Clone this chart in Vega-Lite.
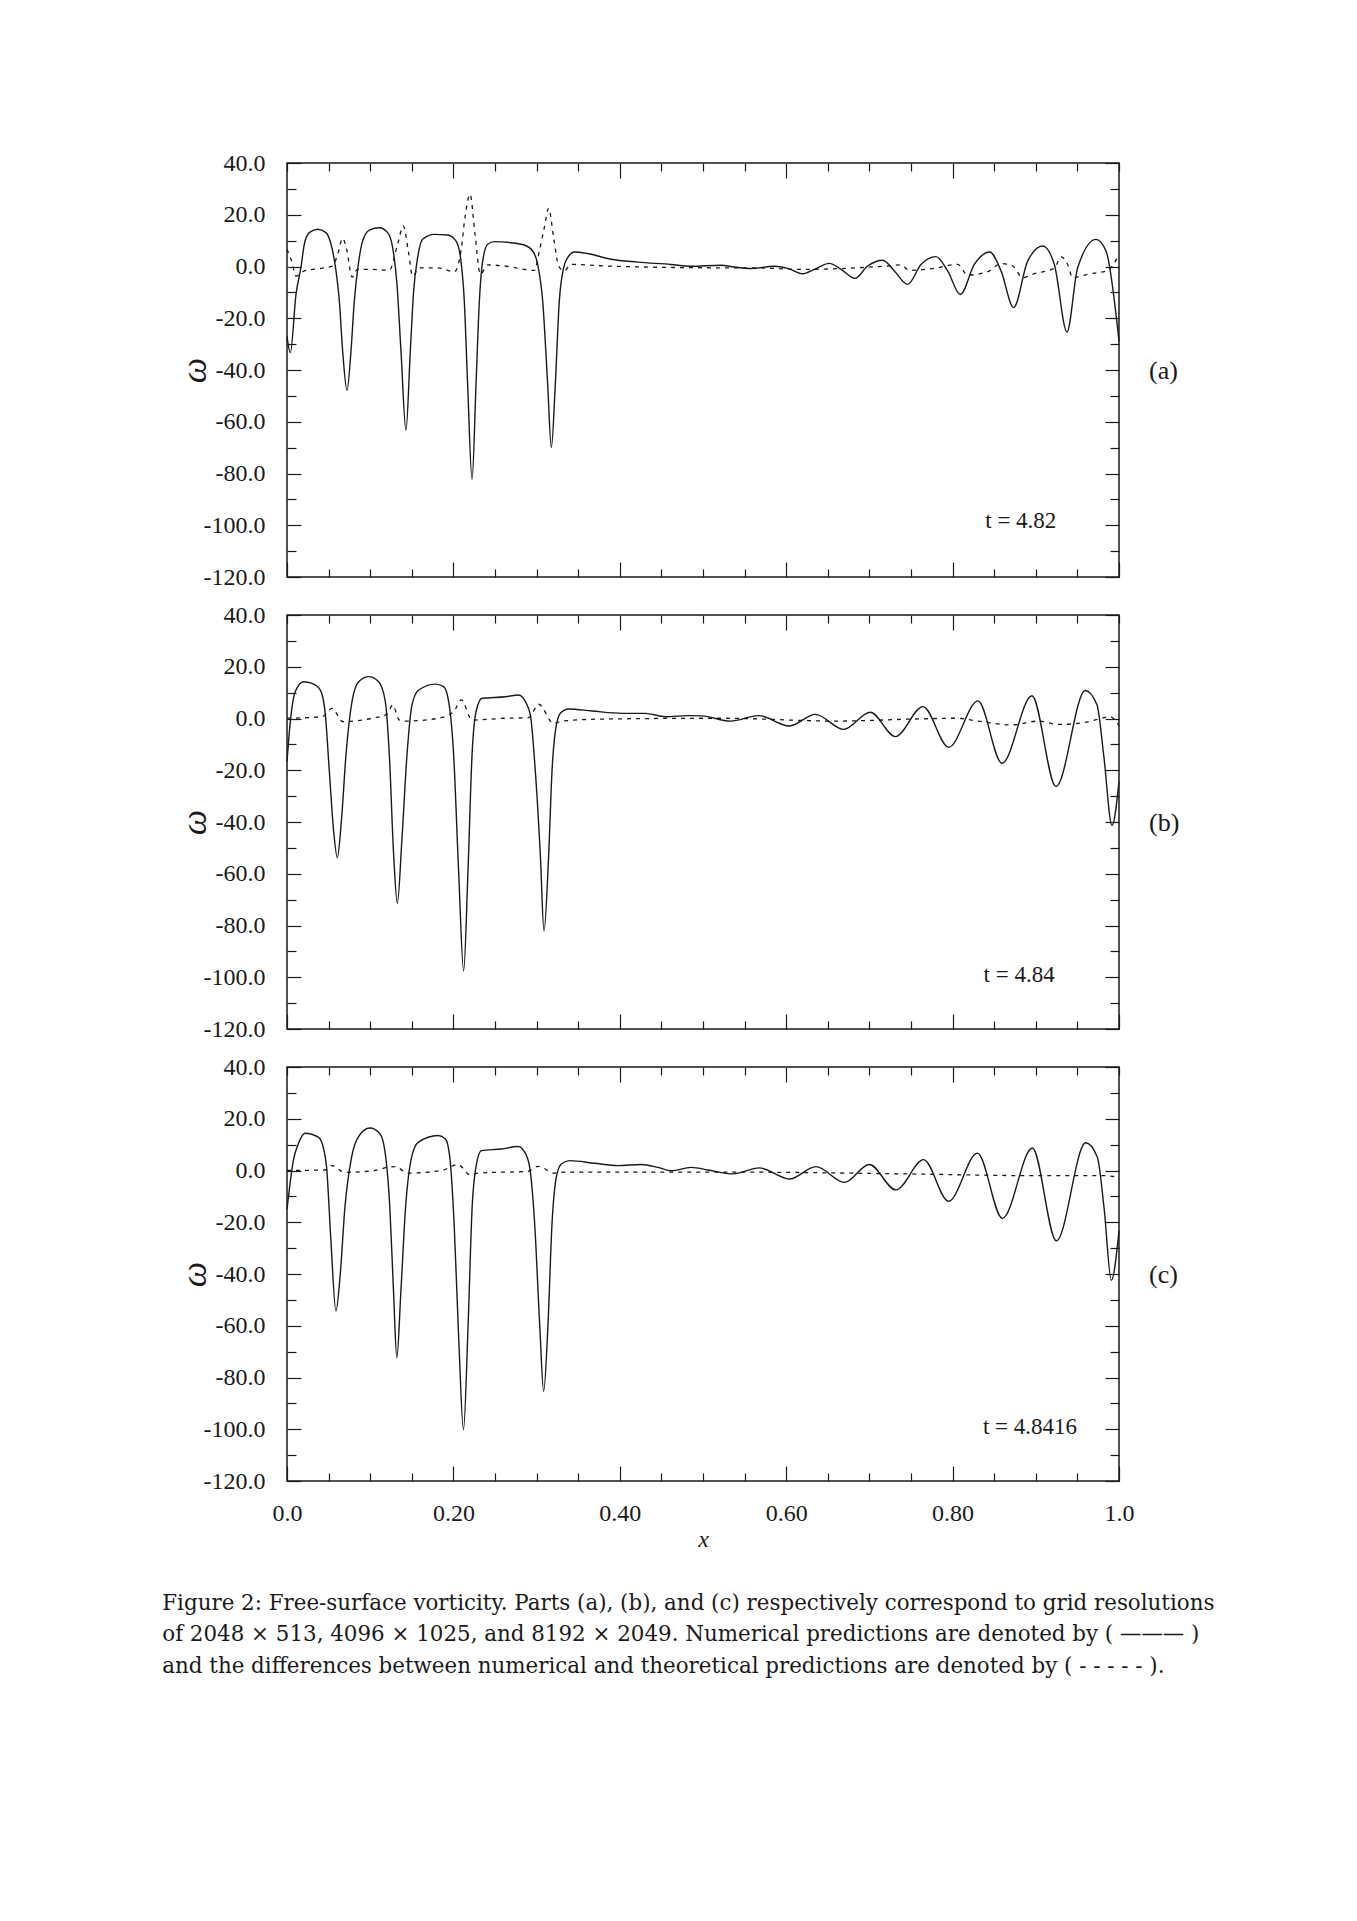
{
  "$schema": "https://vega.github.io/schema/vega-lite/v6.json",
  "background": "white",
  "padding": {"left": 162, "top": 150, "right": 5, "bottom": 5},
  "bounds": "flush",
  "spacing": 38,
  "title": {
    "text": [
      "Figure 2: Free-surface vorticity. Parts (a), (b), and (c) respectively correspond to grid resolutions",
      "of 2048 × 513, 4096 × 1025, and 8192 × 2049. Numerical predictions are denoted by ( ——— )",
      "and the differences between numerical and theoretical predictions are denoted by ( - - - - - )."
    ],
    "orient": "bottom", "anchor": "start", "frame": "bounds", "font": "DejaVu Serif", "fontSize": 21.4,
    "fontWeight": "normal", "lineHeight": 31.5, "offset": 41, "color": "#1a1a1a", "dx": -13
  },
  "config": {
    "view": {"stroke": "#1a1a1a", "strokeWidth": 1.5},
    "axis": {
      "domain": false, "grid": false, "labelFont": "Liberation Serif", "labelFontSize": 24,
      "labelColor": "#1a1a1a", "tickColor": "#1a1a1a", "tickWidth": 1.2,
      "titleFont": "Liberation Serif", "titleFontWeight": "normal", "titleColor": "#1a1a1a",
      "labelFlush": false, "labelOverlap": false
    }
  },
  "datasets": {
    "a_num": [
      {"x":0,"w":-27},{"x":0.004,"w":-33.3},{"x":0.0108,"w":-10.8},{"x":0.0168,"w":-0.2},{"x":0.0208,"w":8.6},{"x":0.0268,"w":13.1},{"x":0.0369,"w":14.4},{"x":0.0469,"w":13.1},{"x":0.0529,"w":8.6},{"x":0.0589,"w":-1.7},{"x":0.0629,"w":-13.3},{"x":0.0669,"w":-32.7},{"x":0.0721,"w":-47.9},{"x":0.0769,"w":-32.7},{"x":0.0809,"w":-13.3},{"x":0.0857,"w":0.8},{"x":0.0909,"w":9.9},{"x":0.099,"w":14.1},{"x":0.111,"w":15.0},{"x":0.121,"w":13.1},{"x":0.127,"w":7.3},{"x":0.1322,"w":-6.9},{"x":0.137,"w":-32.7},{"x":0.143,"w":-63.3},{"x":0.1482,"w":-32.7},{"x":0.1522,"w":-9.5},{"x":0.157,"w":3.4},{"x":0.163,"w":10.5},{"x":0.1771,"w":12.4},{"x":0.1931,"w":12.2},{"x":0.2031,"w":9.9},{"x":0.2091,"w":2.1},{"x":0.2131,"w":-13.3},{"x":0.2171,"w":-45.5},{"x":0.2224,"w":-82.3},{"x":0.2272,"w":-45.5},{"x":0.2312,"w":-13.3},{"x":0.2352,"w":2.1},{"x":0.2412,"w":8.6},{"x":0.2492,"w":9.6},{"x":0.2692,"w":9.2},{"x":0.2853,"w":8.3},{"x":0.2953,"w":6.0},{"x":0.3013,"w":0.8},{"x":0.3073,"w":-13.3},{"x":0.3133,"w":-45.5},{"x":0.3177,"w":-70.0},{"x":0.3225,"w":-45.5},{"x":0.3273,"w":-13.3},{"x":0.3325,"w":-0.5},{"x":0.3373,"w":3.4},{"x":0.3454,"w":5.6},{"x":0.3614,"w":5.0},{"x":0.3894,"w":2.8},{"x":0.4215,"w":1.7},{"x":0.4615,"w":0.8},{"x":0.4856,"w":0.1},{"x":0.5216,"w":0.5},{"x":0.5377,"w":-0.2},{"x":0.5577,"w":-0.8},{"x":0.5857,"w":0.1},{"x":0.6018,"w":-0.7},{"x":0.6198,"w":-2.8},{"x":0.6338,"w":-1.1},{"x":0.6518,"w":1.2},{"x":0.6659,"w":-1.1},{"x":0.6827,"w":-4.6},{"x":0.6979,"w":0.2},{"x":0.716,"w":2.4},{"x":0.73,"w":-1.7},{"x":0.746,"w":-6.9},{"x":0.762,"w":0.8},{"x":0.78,"w":3.8},{"x":0.794,"w":-1.7},{"x":0.8093,"w":-10.8},{"x":0.8261,"w":0.8},{"x":0.8446,"w":5.6},{"x":0.8582,"w":-1.7},{"x":0.8734,"w":-15.9},{"x":0.8902,"w":2.1},{"x":0.9083,"w":7.9},{"x":0.9223,"w":0.8},{"x":0.9375,"w":-25.3},{"x":0.9503,"w":-0.5},{"x":0.9724,"w":10.5},{"x":0.9844,"w":6.0},{"x":1.0,"w":-28.8}
    ],
    "a_diff": [
      {"x":0,"w":6.6},{"x":0.0056,"w":2.1},{"x":0.0108,"w":-3.7},{"x":0.0208,"w":-1.7},{"x":0.0409,"w":-0.7},{"x":0.0549,"w":0.2},{"x":0.0609,"w":4.7},{"x":0.0669,"w":10.9},{"x":0.0721,"w":6.0},{"x":0.0781,"w":-4.1},{"x":0.0849,"w":-1.1},{"x":0.101,"w":-1.1},{"x":0.123,"w":-1.4},{"x":0.133,"w":8.6},{"x":0.1398,"w":15.7},{"x":0.1458,"w":6.0},{"x":0.151,"w":-3.7},{"x":0.159,"w":-0.5},{"x":0.1811,"w":-0.5},{"x":0.2011,"w":-2.0},{"x":0.2091,"w":6.0},{"x":0.2139,"w":18.9},{"x":0.22,"w":27.9},{"x":0.226,"w":12.4},{"x":0.2324,"w":-3.0},{"x":0.2412,"w":0.6},{"x":0.2612,"w":0.2},{"x":0.2973,"w":-1.5},{"x":0.3033,"w":6.0},{"x":0.3093,"w":15.0},{"x":0.3145,"w":22.5},{"x":0.3205,"w":11.1},{"x":0.3265,"w":0.2},{"x":0.3333,"w":-1.7},{"x":0.3413,"w":0.8},{"x":0.3814,"w":0.2},{"x":0.5216,"w":-0.5},{"x":0.5577,"w":-0.5},{"x":0.6178,"w":-1.1},{"x":0.7219,"w":0.2},{"x":0.738,"w":0.6},{"x":0.748,"w":-1.5},{"x":0.778,"w":-0.7},{"x":0.8061,"w":0.8},{"x":0.8181,"w":-3.3},{"x":0.8421,"w":-2.0},{"x":0.8582,"w":1.1},{"x":0.8722,"w":0.2},{"x":0.8842,"w":-4.3},{"x":0.8982,"w":-2.8},{"x":0.9223,"w":-0.7},{"x":0.9303,"w":3.7},{"x":0.9383,"w":0.8},{"x":0.9443,"w":-4.3},{"x":0.9623,"w":-3.0},{"x":0.9864,"w":-1.5},{"x":1.0,"w":4.7}
    ],
    "b_num": [
      {"x":0,"w":-16.7},{"x":0.004,"w":-1.2},{"x":0.01,"w":10.4},{"x":0.02,"w":14.2},{"x":0.03,"w":13.6},{"x":0.0401,"w":11.0},{"x":0.0461,"w":1.4},{"x":0.0509,"w":-20.5},{"x":0.0561,"w":-43.7},{"x":0.0605,"w":-53.8},{"x":0.0653,"w":-39.9},{"x":0.0709,"w":-14.1},{"x":0.0781,"w":6.5},{"x":0.0861,"w":14.2},{"x":0.0982,"w":16.2},{"x":0.1102,"w":14.2},{"x":0.1182,"w":6.5},{"x":0.123,"w":-14.1},{"x":0.1282,"w":-52.8},{"x":0.1326,"w":-71.4},{"x":0.1382,"w":-46.3},{"x":0.1442,"w":-14.1},{"x":0.1502,"w":5.2},{"x":0.1583,"w":11.0},{"x":0.1783,"w":13.3},{"x":0.1883,"w":12.3},{"x":0.1943,"w":6.5},{"x":0.2003,"w":-14.1},{"x":0.2063,"w":-59.2},{"x":0.2123,"w":-97.6},{"x":0.2175,"w":-59.2},{"x":0.2224,"w":-14.1},{"x":0.2272,"w":2.6},{"x":0.2344,"w":7.8},{"x":0.2624,"w":8.4},{"x":0.2784,"w":9.1},{"x":0.2865,"w":6.5},{"x":0.2925,"w":1.4},{"x":0.2985,"w":-20.5},{"x":0.3045,"w":-52.8},{"x":0.3089,"w":-82.1},{"x":0.3145,"w":-52.8},{"x":0.3185,"w":-20.5},{"x":0.3225,"w":-5.1},{"x":0.3285,"w":2.0},{"x":0.3385,"w":3.7},{"x":0.3666,"w":2.9},{"x":0.4026,"w":2.0},{"x":0.4307,"w":2.0},{"x":0.4547,"w":0.7},{"x":0.4828,"w":1.1},{"x":0.4988,"w":1.0},{"x":0.5329,"w":-1.0},{"x":0.5669,"w":1.1},{"x":0.6038,"w":-2.9},{"x":0.635,"w":1.6},{"x":0.6691,"w":-4.2},{"x":0.7011,"w":2.4},{"x":0.7312,"w":-7.0},{"x":0.7644,"w":4.6},{"x":0.7953,"w":-11.1},{"x":0.8305,"w":6.8},{"x":0.8594,"w":-17.3},{"x":0.8954,"w":8.8},{"x":0.9243,"w":-26.3},{"x":0.9595,"w":10.8},{"x":0.9736,"w":5.2},{"x":0.9816,"w":-14.1},{"x":0.9916,"w":-41.4},{"x":1.0,"w":-24.4}
    ],
    "b_diff": [
      {"x":0,"w":0.1},{"x":0.0421,"w":0.7},{"x":0.0541,"w":3.9},{"x":0.0669,"w":-1.2},{"x":0.1022,"w":0.1},{"x":0.1202,"w":1.6},{"x":0.127,"w":5.2},{"x":0.135,"w":-0.6},{"x":0.1422,"w":-1.0},{"x":0.1823,"w":0.1},{"x":0.2003,"w":2.6},{"x":0.2095,"w":7.2},{"x":0.2224,"w":-0.6},{"x":0.2624,"w":0.1},{"x":0.2905,"w":0.3},{"x":0.3025,"w":5.5},{"x":0.3205,"w":-1.9},{"x":0.3305,"w":-1.0},{"x":0.3826,"w":-0.2},{"x":0.5228,"w":0.1},{"x":0.6591,"w":-1.0},{"x":0.7548,"w":-0.2},{"x":0.8029,"w":0.1},{"x":0.8309,"w":-1.0},{"x":0.871,"w":-2.5},{"x":0.9031,"w":-1.0},{"x":0.9271,"w":-2.3},{"x":0.9591,"w":-1.5},{"x":0.9792,"w":0.1},{"x":0.9892,"w":0.7},{"x":1.0,"w":-2.8}
    ],
    "c_num": [
      {"x":0,"w":-14.9},{"x":0.0036,"w":-5.2},{"x":0.0076,"w":3.8},{"x":0.0136,"w":10.3},{"x":0.0216,"w":14.4},{"x":0.0376,"w":12.9},{"x":0.0436,"w":9.0},{"x":0.0476,"w":1.2},{"x":0.0528,"w":-27.2},{"x":0.0588,"w":-54.3},{"x":0.064,"w":-40.1},{"x":0.0696,"w":-14.3},{"x":0.0776,"w":5.1},{"x":0.0856,"w":12.9},{"x":0.0996,"w":16.4},{"x":0.1116,"w":14.2},{"x":0.1176,"w":7.7},{"x":0.1236,"w":-14.3},{"x":0.128,"w":-46.6},{"x":0.132,"w":-72.4},{"x":0.1369,"w":-46.6},{"x":0.1425,"w":-14.3},{"x":0.1497,"w":5.1},{"x":0.1577,"w":10.9},{"x":0.1817,"w":13.5},{"x":0.1905,"w":12.2},{"x":0.1957,"w":5.1},{"x":0.2009,"w":-20.7},{"x":0.2065,"w":-65.9},{"x":0.2121,"w":-100.2},{"x":0.2177,"w":-59.5},{"x":0.2225,"w":-14.3},{"x":0.2277,"w":2.5},{"x":0.2337,"w":7.7},{"x":0.2577,"w":8.3},{"x":0.2777,"w":9.3},{"x":0.2857,"w":7.1},{"x":0.2917,"w":1.2},{"x":0.2977,"w":-20.7},{"x":0.3037,"w":-59.5},{"x":0.3085,"w":-85.3},{"x":0.3137,"w":-59.5},{"x":0.3185,"w":-20.7},{"x":0.3237,"w":-2.6},{"x":0.3297,"w":2.5},{"x":0.3397,"w":3.8},{"x":0.3697,"w":2.8},{"x":0.3978,"w":1.9},{"x":0.4258,"w":2.3},{"x":0.4458,"w":1.2},{"x":0.4618,"w":-0.1},{"x":0.4858,"w":1.2},{"x":0.5058,"w":0.2},{"x":0.5358,"w":-1.3},{"x":0.5678,"w":1.0},{"x":0.6038,"w":-3.3},{"x":0.6358,"w":1.5},{"x":0.6699,"w":-4.6},{"x":0.6999,"w":2.3},{"x":0.7319,"w":-7.5},{"x":0.7651,"w":4.2},{"x":0.7951,"w":-11.9},{"x":0.8299,"w":6.7},{"x":0.8599,"w":-18.5},{"x":0.8959,"w":8.7},{"x":0.9247,"w":-27.2},{"x":0.96,"w":10.7},{"x":0.974,"w":5.1},{"x":0.982,"w":-14.3},{"x":0.9908,"w":-42.4},{"x":1.0,"w":-23.3}
    ],
    "c_diff": [
      {"x":0,"w":0},{"x":0.0456,"w":0.2},{"x":0.0536,"w":1.9},{"x":0.0696,"w":-0.7},{"x":0.1056,"w":0},{"x":0.1216,"w":1.3},{"x":0.1297,"w":1.5},{"x":0.1457,"w":-1.0},{"x":0.1857,"w":0},{"x":0.2057,"w":2.3},{"x":0.2197,"w":-1.6},{"x":0.2297,"w":-1.0},{"x":0.2897,"w":-0.3},{"x":0.3017,"w":1.6},{"x":0.3217,"w":-1.0},{"x":0.3337,"w":-0.6},{"x":0.5258,"w":-0.6},{"x":0.7419,"w":-1.3},{"x":0.9019,"w":-2.0},{"x":0.982,"w":-2.0},{"x":1.0,"w":-2.6}
    ]
  },
  "vconcat": [
    {
      "width": 832, "height": 414,
      "resolve": {"axis": {"x": "independent", "y": "independent"}},
      "layer": [
        {
          "data": {"name": "a_num"},
          "mark": {"type": "line", "interpolate": "monotone", "color": "#1a1a1a", "strokeWidth": 1.4},
          "encoding": {
            "x": {"field": "x", "type": "quantitative", "scale": {"domain": [0, 1], "nice": false, "zero": false},
              "axis": {"orient": "bottom", "title": null, "labels": false,
                "values": [0,0.05,0.1,0.15,0.2,0.25,0.3,0.35,0.4,0.45,0.5,0.55,0.6,0.65,0.7,0.75,0.8,0.85,0.9,0.95,1],
                "tickSize": {"condition": {"test": "datum.value == 0 || datum.value == 0.2 || datum.value == 0.4 || datum.value == 0.6 || datum.value == 0.8 || datum.value == 1", "value": -15}, "value": -8}}},
            "y": {"field": "w", "type": "quantitative", "scale": {"domain": [-120, 40], "nice": false, "zero": false},
              "axis": {"orient": "left", "title": "ω", "titleFontStyle": "italic", "titleFontSize": 36, "titlePadding": -10,
                "values": [-120,-110,-100,-90,-80,-70,-60,-50,-40,-30,-20,-10,0,10,20,30,40],
                "labelExpr": "datum.value % 20 == 0 ? (datum.value < 0 ? '-' : '') + format(abs(datum.value), '.1f') : ''",
                "labelPadding": 36,
                "tickSize": {"condition": {"test": "datum.value % 20 == 0", "value": -14}, "value": -9}}}
          }
        },
        {
          "data": {"name": "a_diff"},
          "mark": {"type": "line", "interpolate": "monotone", "color": "#1a1a1a", "strokeWidth": 1.3, "strokeDash": [4, 5]},
          "encoding": {
            "x": {"field": "x", "type": "quantitative",
              "axis": {"orient": "top", "title": null, "labels": false,
                "values": [0,0.05,0.1,0.15,0.2,0.25,0.3,0.35,0.4,0.45,0.5,0.55,0.6,0.65,0.7,0.75,0.8,0.85,0.9,0.95,1],
                "tickSize": {"condition": {"test": "datum.value == 0.2 || datum.value == 0.4 || datum.value == 0.6 || datum.value == 0.8", "value": -15}, "value": -8}}},
            "y": {"field": "w", "type": "quantitative",
              "axis": {"orient": "right", "title": "(a)", "titleAngle": 0, "titleFontSize": 26, "titlePadding": 29, "titleAlign": "left", "titleBaseline": "middle", "labels": false,
                "values": [-120,-110,-100,-90,-80,-70,-60,-50,-40,-30,-20,-10,0,10,20,30,40],
                "tickSize": {"condition": {"test": "datum.value % 20 == 0", "value": -14}, "value": -9}}}
          }
        },
        {
          "data": {"values": [{}]},
          "mark": {"type": "text", "font": "Liberation Serif", "fontSize": 23, "color": "#1a1a1a", "align": "center", "baseline": "middle"},
          "encoding": {
            "x": {"datum": 0.882, "type": "quantitative", "axis": null},
            "y": {"datum": -98.5, "type": "quantitative", "axis": null},
            "text": {"value": "t = 4.82"}
          }
        }
      ]
    },
    {
      "width": 832, "height": 414,
      "resolve": {"axis": {"x": "independent", "y": "independent"}},
      "layer": [
        {
          "data": {"name": "b_num"},
          "mark": {"type": "line", "interpolate": "monotone", "color": "#1a1a1a", "strokeWidth": 1.4},
          "encoding": {
            "x": {"field": "x", "type": "quantitative", "scale": {"domain": [0, 1], "nice": false, "zero": false},
              "axis": {"orient": "bottom", "title": null, "labels": false,
                "values": [0,0.05,0.1,0.15,0.2,0.25,0.3,0.35,0.4,0.45,0.5,0.55,0.6,0.65,0.7,0.75,0.8,0.85,0.9,0.95,1],
                "tickSize": {"condition": {"test": "datum.value == 0 || datum.value == 0.2 || datum.value == 0.4 || datum.value == 0.6 || datum.value == 0.8 || datum.value == 1", "value": -15}, "value": -8}}},
            "y": {"field": "w", "type": "quantitative", "scale": {"domain": [-120, 40], "nice": false, "zero": false},
              "axis": {"orient": "left", "title": "ω", "titleFontStyle": "italic", "titleFontSize": 36, "titlePadding": -10,
                "values": [-120,-110,-100,-90,-80,-70,-60,-50,-40,-30,-20,-10,0,10,20,30,40],
                "labelExpr": "datum.value % 20 == 0 ? (datum.value < 0 ? '-' : '') + format(abs(datum.value), '.1f') : ''",
                "labelPadding": 36,
                "tickSize": {"condition": {"test": "datum.value % 20 == 0", "value": -14}, "value": -9}}}
          }
        },
        {
          "data": {"name": "b_diff"},
          "mark": {"type": "line", "interpolate": "monotone", "color": "#1a1a1a", "strokeWidth": 1.3, "strokeDash": [4, 5]},
          "encoding": {
            "x": {"field": "x", "type": "quantitative",
              "axis": {"orient": "top", "title": null, "labels": false,
                "values": [0,0.05,0.1,0.15,0.2,0.25,0.3,0.35,0.4,0.45,0.5,0.55,0.6,0.65,0.7,0.75,0.8,0.85,0.9,0.95,1],
                "tickSize": {"condition": {"test": "datum.value == 0.2 || datum.value == 0.4 || datum.value == 0.6 || datum.value == 0.8", "value": -15}, "value": -8}}},
            "y": {"field": "w", "type": "quantitative",
              "axis": {"orient": "right", "title": "(b)", "titleAngle": 0, "titleFontSize": 26, "titlePadding": 29, "titleAlign": "left", "titleBaseline": "middle", "labels": false,
                "values": [-120,-110,-100,-90,-80,-70,-60,-50,-40,-30,-20,-10,0,10,20,30,40],
                "tickSize": {"condition": {"test": "datum.value % 20 == 0", "value": -14}, "value": -9}}}
          }
        },
        {
          "data": {"values": [{}]},
          "mark": {"type": "text", "font": "Liberation Serif", "fontSize": 23, "color": "#1a1a1a", "align": "center", "baseline": "middle"},
          "encoding": {
            "x": {"datum": 0.88, "type": "quantitative", "axis": null},
            "y": {"datum": -99, "type": "quantitative", "axis": null},
            "text": {"value": "t = 4.84"}
          }
        }
      ]
    },
    {
      "width": 832, "height": 414,
      "resolve": {"axis": {"x": "independent", "y": "independent"}},
      "layer": [
        {
          "data": {"name": "c_num"},
          "mark": {"type": "line", "interpolate": "monotone", "color": "#1a1a1a", "strokeWidth": 1.4},
          "encoding": {
            "x": {"field": "x", "type": "quantitative", "scale": {"domain": [0, 1], "nice": false, "zero": false},
              "axis": {"orient": "bottom", "title": "x", "titleFontStyle": "italic", "titleFontSize": 24, "titlePadding": -5,
                "values": [0,0.05,0.1,0.15,0.2,0.25,0.3,0.35,0.4,0.45,0.5,0.55,0.6,0.65,0.7,0.75,0.8,0.85,0.9,0.95,1],
                "labelExpr": "datum.value == 0 ? '0.0' : datum.value == 1 ? '1.0' : (datum.value == 0.2 || datum.value == 0.4 || datum.value == 0.6 || datum.value == 0.8) ? format(datum.value, '.2f') : ''",
                "labelPadding": 35,
                "tickSize": {"condition": {"test": "datum.value == 0 || datum.value == 0.2 || datum.value == 0.4 || datum.value == 0.6 || datum.value == 0.8 || datum.value == 1", "value": -15}, "value": -8}}},
            "y": {"field": "w", "type": "quantitative", "scale": {"domain": [-120, 40], "nice": false, "zero": false},
              "axis": {"orient": "left", "title": "ω", "titleFontStyle": "italic", "titleFontSize": 36, "titlePadding": -10,
                "values": [-120,-110,-100,-90,-80,-70,-60,-50,-40,-30,-20,-10,0,10,20,30,40],
                "labelExpr": "datum.value % 20 == 0 ? (datum.value < 0 ? '-' : '') + format(abs(datum.value), '.1f') : ''",
                "labelPadding": 36,
                "tickSize": {"condition": {"test": "datum.value % 20 == 0", "value": -14}, "value": -9}}}
          }
        },
        {
          "data": {"name": "c_diff"},
          "mark": {"type": "line", "interpolate": "monotone", "color": "#1a1a1a", "strokeWidth": 1.3, "strokeDash": [4, 5]},
          "encoding": {
            "x": {"field": "x", "type": "quantitative",
              "axis": {"orient": "top", "title": null, "labels": false,
                "values": [0,0.05,0.1,0.15,0.2,0.25,0.3,0.35,0.4,0.45,0.5,0.55,0.6,0.65,0.7,0.75,0.8,0.85,0.9,0.95,1],
                "tickSize": {"condition": {"test": "datum.value == 0.2 || datum.value == 0.4 || datum.value == 0.6 || datum.value == 0.8", "value": -15}, "value": -8}}},
            "y": {"field": "w", "type": "quantitative",
              "axis": {"orient": "right", "title": "(c)", "titleAngle": 0, "titleFontSize": 26, "titlePadding": 29, "titleAlign": "left", "titleBaseline": "middle", "labels": false,
                "values": [-120,-110,-100,-90,-80,-70,-60,-50,-40,-30,-20,-10,0,10,20,30,40],
                "tickSize": {"condition": {"test": "datum.value % 20 == 0", "value": -14}, "value": -9}}}
          }
        },
        {
          "data": {"values": [{}]},
          "mark": {"type": "text", "font": "Liberation Serif", "fontSize": 23, "color": "#1a1a1a", "align": "center", "baseline": "middle"},
          "encoding": {
            "x": {"datum": 0.893, "type": "quantitative", "axis": null},
            "y": {"datum": -99, "type": "quantitative", "axis": null},
            "text": {"value": "t = 4.8416"}
          }
        }
      ]
    }
  ]
}
